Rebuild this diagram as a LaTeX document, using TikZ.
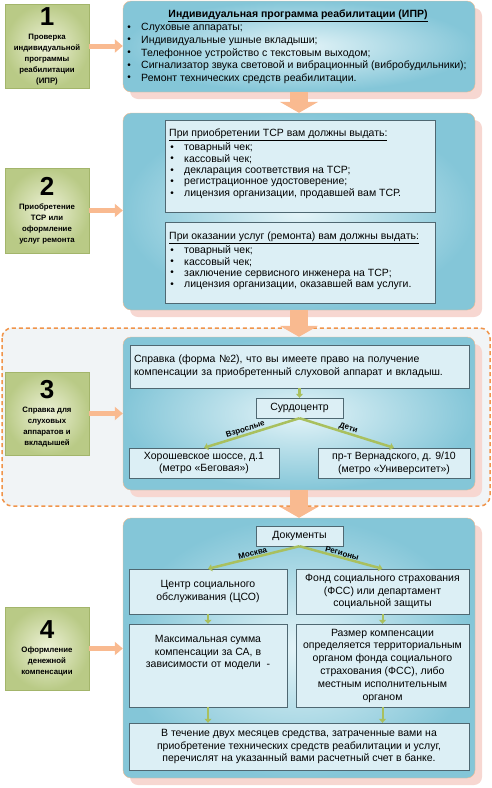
\documentclass[tikz,border=0pt]{standalone}
\usepackage{fontspec}
\setmainfont{Liberation Sans}
\usetikzlibrary{arrows.meta,shadows}

\definecolor{stageedge}{HTML}{A3B56B}
\definecolor{stagein}{HTML}{EEF2D8}
\definecolor{stageout}{HTML}{B9CA86}
\definecolor{panelin}{HTML}{E4F4F8}
\definecolor{panelout}{HTML}{84C6D8}
\definecolor{paneledge}{HTML}{F2B98E}
\definecolor{shadowpink}{HTML}{F7D7D1}
\definecolor{boxfill}{HTML}{DCEFF5}
\definecolor{boxedge}{HTML}{4F6872}
\definecolor{peach}{HTML}{F9BA90}
\definecolor{branchgreen}{HTML}{A9C05E}
\definecolor{zoneedge}{HTML}{F0944A}
\definecolor{zonefill}{HTML}{F1F4F6}

\tikzset{
  stage/.style={draw=stageedge, inner color=stagein, outer color=stageout, minimum width=84pt, minimum height=84pt, align=center, font=\bfseries\fontsize{7.8}{11}\selectfont, inner sep=0pt},
  panel/.style={draw=paneledge, rounded corners=8pt, inner color=panelin, outer color=panelout, minimum width=352pt, drop shadow={shadow xshift=7pt, shadow yshift=-7pt, fill=shadowpink, opacity=1}},
  inbox/.style={draw=boxedge, fill=boxfill, align=center, font=\fontsize{10.5}{12.8}\selectfont, inner sep=2pt},
  item/.style={anchor=west, inner sep=0pt, font=\fontsize{10.5}{12}\selectfont},
  dot/.style={inner sep=0pt, font=\fontsize{10}{12}\selectfont},
  flow/.style={draw=peach, line width=5pt, -{Triangle[length=8pt,width=13pt]}},
  down/.style={draw=peach, line width=18pt, -{Triangle[length=11pt,width=38pt]}},
  branch/.style={draw=branchgreen, line width=2.5pt, -{Triangle[length=4pt,width=7pt]}},
  tag/.style={font=\bfseries\fontsize{8}{8}\selectfont, inner sep=0.3pt}
}

\begin{document}
\begin{tikzpicture}[x=1pt,y=-1pt]
\useasboundingbox (0,0) rectangle (492,788);
% zone of step 3
\draw[zoneedge, fill=zonefill, line width=1.5pt, rounded corners=10pt, dash pattern=on 4pt off 3pt] (2,328) rectangle (490,506);

% steps
\node[stage] (stage1) at (47,46) {{\fontsize{26}{26}\selectfont 1}\\[3pt] Проверка\\индивидуальной\\программы\\реабилитации\\(ИПР)};
\node[stage, minimum height=85pt] (stage2) at (47,210.5) {{\fontsize{26}{26}\selectfont 2}\\[3pt] Приобретение\\ТСР или\\оформление\\услуг ремонта};
\node[stage, minimum height=83pt] (stage3) at (47,413.5) {{\fontsize{26}{26}\selectfont 3}\\[3pt] Справка для\\слуховых\\аппаратов и\\вкладышей};
\node[stage, minimum height=83pt] (stage4) at (47,648.5) {{\fontsize{26}{26}\selectfont 4}\\[3pt] Оформление\\денежной\\компенсации};

% panels
\node[panel, minimum height=91pt] (panel1) at (299,46.5) {};
\node[panel, minimum height=197pt] (panel2) at (299,211.5) {};
\node[panel, minimum height=153pt] (panel3) at (299,413.5) {};
\node[panel, minimum height=260pt] (panel4) at (299,648) {};

% panel 1
\node[font=\bfseries\fontsize{10.5}{12}\selectfont] (iprtitle) at (298,16) {\underline{Индивидуальная программа реабилитации (ИПР)}};
\foreach \t [count=\i] in {Слуховые аппараты;, Индивидуальные ушные вкладыши;, Телефонное устройство с текстовым выходом;, Сигнализатор звука световой и вибрационный (вибробудильники);, Ремонт технических средств реабилитации.}
{
  \node[dot] (iprdot\i) at (129,{15.4+12.6*\i}) {\textbullet};
  \node[item] (ipr\i) at (141,{15.4+12.6*\i}) {\t};
}

% panel 2
\node[inbox, minimum width=270pt, minimum height=92pt] (buy) at (300,166) {};
\node[item] (buytitle) at (169,135) {\underline{При приобретении ТСР вам должны выдать:}};
\foreach \t [count=\i] in {товарный чек;, кассовый чек;, декларация соответствия на ТСР;, регистрационное удостоверение;, {лицензия организации, продавшей вам ТСР.}}
{
  \node[dot] (buydot\i) at (172,{136.5+11.5*\i}) {\textbullet};
  \node[item] (buy\i) at (184,{136.5+11.5*\i}) {\t};
}
\node[inbox, minimum width=270pt, minimum height=81pt] (repair) at (300,262.5) {};
\node[item] (repairtitle) at (169,238) {\underline{При оказании услуг (ремонта) вам должны выдать:}};
\foreach \t [count=\i] in {товарный чек;, кассовый чек;, заключение сервисного инженера на ТСР;, {лицензия организации, оказавшей вам услуги.}}
{
  \node[dot] (repairdot\i) at (172,{239.7+11.3*\i}) {\textbullet};
  \node[item] (repair\i) at (184,{239.7+11.3*\i}) {\t};
}

% panel 3
\node[inbox, minimum width=339pt, minimum height=43pt, align=left, text width=331pt, font=\fontsize{10.5}{13}\selectfont] (spravka) at (299.5,366.5) {Справка (форма №2), что вы имеете право на получение\\компенсации за приобретенный слуховой аппарат и вкладыш.};
\node[inbox, minimum width=87pt, minimum height=20pt] (surdo) at (299.5,408) {Сурдоцентр};
\node[inbox, minimum width=150pt, minimum height=30pt] (adult) at (204,463) {Хорошевское шоссе, д.1\\(метро «Беговая»)};
\node[inbox, minimum width=152pt, minimum height=30pt] (child) at (394,463) {пр-т Вернадского, д. 9/10\\(метро «Университет»)};
\draw[branch] (spravka.south) -- (surdo.north);
\draw[branch] (surdo.south) -- node[tag, pos=0.55, above, sloped] (adulttag) {Взрослые} (adult.north);
\draw[branch] (surdo.south) -- node[tag, midway, above, sloped] (childtag) {Дети} (child.north);

% panel 4
\node[inbox, minimum width=87pt, minimum height=20pt] (docs) at (299.5,536) {Документы};
\node[inbox, minimum width=158pt, minimum height=45pt] (cso) at (208,591.5) {Центр социального\\обслуживания (ЦСО)};
\node[inbox, minimum width=173pt, minimum height=45pt] (fss) at (382.5,591.5) {Фонд социального страхования\\(ФСС) или департамент\\социальной защиты};
\node[inbox, minimum width=158pt, minimum height=83pt] (maxsum) at (208,665.5) {};
\node[align=center, inner sep=0pt, font=\fontsize{10.5}{12.8}\selectfont] (maxsumtext) at (208,652.5) {Максимальная сумма\\компенсации за СА, в\\зависимости от модели~~-};
\node[inbox, minimum width=173pt, minimum height=83pt] (size) at (382.5,665.5) {Размер компенсации\\определяется территориальным\\органом фонда социального\\страхования (ФСС), либо\\местным исполнительным\\органом};
\node[inbox, minimum width=340pt, minimum height=47pt] (refund) at (299,746.5) {В течение двух месяцев средства, затраченные вами на\\приобретение технических средств реабилитации и услуг,\\перечислят на указанный вами расчетный счет в банке.};
\draw[branch] (docs.south) -- node[tag, midway, above, sloped] (moscowtag) {Москва} (cso.north);
\draw[branch] (docs.south) -- node[tag, midway, above, sloped] (regiontag) {Регионы} (fss.north);
\draw[branch, line width=2pt] (cso.south) -- (maxsum.north);
\draw[branch, line width=2pt] (fss.south) -- (size.north);
\draw[branch, line width=2pt] (maxsum.south) -- (maxsum.south |- refund.north);
\draw[branch, line width=2pt] (size.south) -- (size.south |- refund.north);

% arrows between steps
\draw[flow] (stage1.east) -- (stage1.east -| panel1.west);
\draw[flow] (stage2.east) -- (stage2.east -| panel2.west);
\draw[flow] (stage3.east) -- (stage3.east -| panel3.west);
\draw[flow] (stage4.east) -- (stage4.east -| panel4.west);
\draw[down] (panel1.south) -- (panel2.north);
\draw[down] (panel2.south) -- (panel3.north);
\draw[down] (panel3.south) -- (panel4.north);
\end{tikzpicture}
\end{document}
